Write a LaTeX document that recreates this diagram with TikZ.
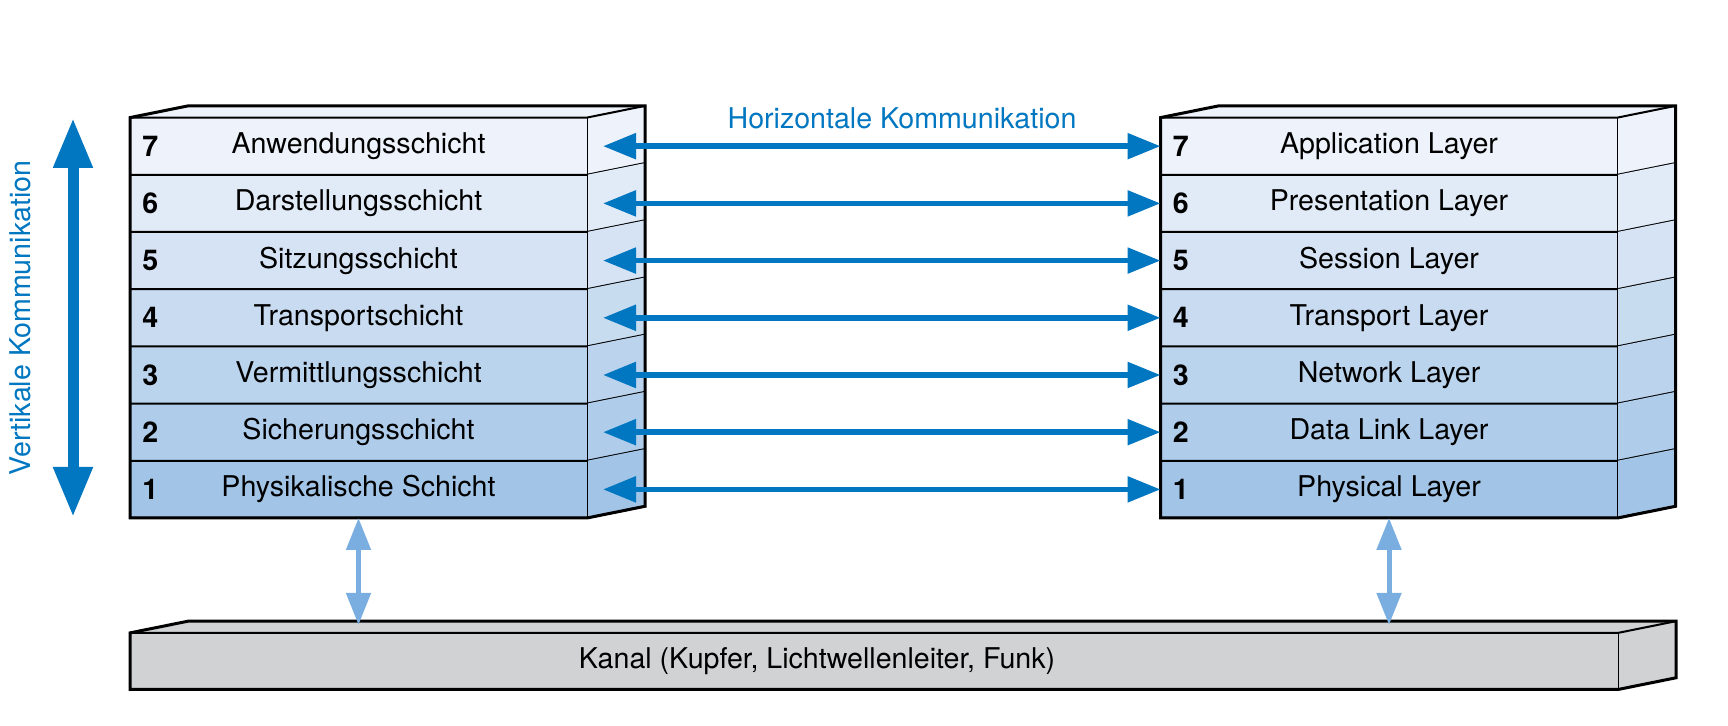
\documentclass[tikz,border=0pt]{standalone}
\usepackage{fontspec}
\setmainfont{TeX Gyre Heros}
\usetikzlibrary{arrows.meta, positioning, calc}
\usepackage{xcolor}

\definecolor{kommblau}{RGB}{0,119,192}
\definecolor{hellblau}{RGB}{122,174,224}
\definecolor{schichtoben}{RGB}{238,243,251}
\definecolor{schichtunten}{RGB}{162,196,230}
\definecolor{kanalgrau}{RGB}{209,210,212}

\begin{document}
\begin{tikzpicture}[
    x=0.5pt, y=0.5pt,
    every node/.style={font=\fontsize{14.3}{17}\selectfont},
    schicht/.style={
        rectangle,
        inner sep=0pt,
        outer sep=0pt,
        minimum width=228.5pt,
        minimum height=28.6pt,
        fill=schichtoben!#1!schichtunten
    },
    kanal/.style={
        rectangle,
        inner sep=0pt,
        outer sep=0pt,
        minimum width=744pt,
        minimum height=28.3pt,
        fill=kanalgrau
    },
    nummer/.style={
        font=\fontsize{14.3}{17}\selectfont\bfseries,
        inner sep=0pt
    },
    trenn/.style={line width=1pt},
    duenn/.style={line width=0.5pt},
    umriss/.style={line width=1.5pt, line join=miter},
    harrow/.style={
        {Triangle[length=16.5pt, width=12.5pt]}-{Triangle[length=16.5pt, width=12.5pt]},
        line width=2.75pt,
        kommblau
    },
    varrow/.style={
        {Triangle[length=25pt, width=18.5pt]}-{Triangle[length=25pt, width=18.5pt]},
        line width=5.5pt,
        kommblau
    },
    karrow/.style={
        {Triangle[length=16pt, width=12pt]}-{Triangle[length=16pt, width=12pt]},
        line width=2.5pt,
        hellblau
    }
]
\useasboundingbox (0,0) rectangle (1728,726);

% deutsche Schichten
\node[schicht=100] (L7) at (358.5,579.8) {Anwendungsschicht};
\node[schicht=83, below=0pt of L7] (L6) {Darstellungsschicht};
\node[schicht=67, below=0pt of L6] (L5) {Sitzungsschicht};
\node[schicht=50, below=0pt of L5] (L4) {Transportschicht};
\node[schicht=33, below=0pt of L4] (L3) {Vermittlungsschicht};
\node[schicht=17, below=0pt of L3] (L2) {Sicherungsschicht};
\node[schicht=0, below=0pt of L2] (L1) {Physikalische Schicht};

% englische Schichten
\node[schicht=100] (R7) at (1389,579.8) {Application Layer};
\node[schicht=83, below=0pt of R7] (R6) {Presentation Layer};
\node[schicht=67, below=0pt of R6] (R5) {Session Layer};
\node[schicht=50, below=0pt of R5] (R4) {Transport Layer};
\node[schicht=33, below=0pt of R4] (R3) {Network Layer};
\node[schicht=17, below=0pt of R3] (R2) {Data Link Layer};
\node[schicht=0, below=0pt of R2] (R1) {Physical Layer};

% Kanal
\node[kanal] (kanal) at (874,64.8) {};

% Seiten- und Deckflaechen
\foreach \s in {L,R} {
    \foreach \i/\p in {7/100,6/83,5/67,4/50,3/33,2/17,1/0} {
        \fill[schichtoben!\p!schichtunten] (\s\i.north east) -- ++(58,11.7)
            -- ($(\s\i.south east)+(58,11.7)$) -- (\s\i.south east) -- cycle;
        \draw[trenn] (\s\i.south west) -- (\s\i.south east) -- ++(58,11.7);
        \node[nummer, right=6pt of \s\i.west] (n\s\i) {\i};
    }
    \fill[schichtoben] (\s7.north west) -- ++(58,11.7)
        -- ($(\s7.north east)+(58,11.7)$) -- (\s7.north east) -- cycle;
    \draw[trenn] (\s7.north west) -- (\s7.north east) -- ++(58,11.7);
    \draw[duenn] (\s1.south east) -- (\s7.north east);
    \draw[umriss] (\s1.south west) -- (\s7.north west) -- ++(58,11.7)
        -- ($(\s7.north east)+(58,11.7)$) -- ($(\s1.south east)+(58,11.7)$)
        -- (\s1.south east) -- cycle;
}

\fill[kanalgrau] (kanal.north west) -- ++(58,11.7)
    -- ($(kanal.north east)+(58,11.7)$) -- ($(kanal.south east)+(58,11.7)$)
    -- (kanal.south east) -- cycle;
\draw[trenn] (kanal.north west) -- (kanal.north east) -- ++(58,11.7);
\draw[duenn] (kanal.south east) -- (kanal.north east);
\draw[umriss] (kanal.south west) -- (kanal.north west) -- ++(58,11.7)
    -- ($(kanal.north east)+(58,11.7)$) -- ($(kanal.south east)+(58,11.7)$)
    -- (kanal.south east) -- cycle;
\node (kanaltext) at (817,64.8) {Kanal (Kupfer, Lichtwellenleiter, Funk)};

% horizontale Kommunikation
\foreach \i in {7,...,1} {
    \draw[harrow] ([xshift=8pt]L\i.east) -- (R\i.west);
}
\node[text=kommblau] (hk) at (902,608) {Horizontale Kommunikation};

% vertikale Kommunikation
\coordinate (vo) at (73,608);
\coordinate (vu) at (73,209);
\draw[varrow] (vo) -- (vu);
\node[text=kommblau, rotate=90] (vk) at (20,408) {Vertikale Kommunikation};

% Anbindung an den Kanal
\coordinate (kl) at (L1.south |- kanal.north);
\coordinate (kr) at (R1.south |- kanal.north);
\draw[karrow] (L1.south) -- ([yshift=4pt]kl);
\draw[karrow] (R1.south) -- ([yshift=4pt]kr);

\end{tikzpicture}
\end{document}
